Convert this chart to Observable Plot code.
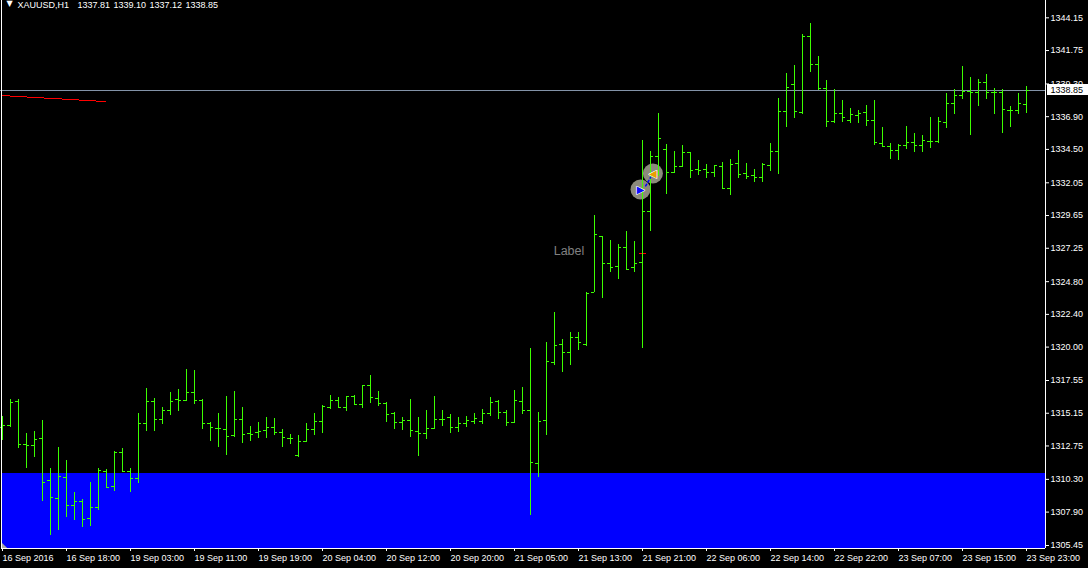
<!DOCTYPE html>
<html>
<head>
<meta charset="utf-8">
<script src="https://cdn.jsdelivr.net/npm/d3@7"></script>
<script src="https://cdn.jsdelivr.net/npm/@observablehq/plot@0.6"></script>
<style>
html,body{margin:0;padding:0;background:#000;overflow:hidden}
svg{display:block}
</style>
</head>
<body>
<div id="chart"></div>
<script>
const highs = [
1314.91,1316.16,1316.16,1313.67,1313.81,1314.62,1311.10,1312.64,1311.69,1309.34,
1308.83,1310.07,1311.10,1311.03,1312.35,1312.57,1311.10,1315.13,1316.97,1316.23,
1315.57,1316.67,1316.89,1318.36,1318.29,1316.16,1314.47,1315.13,1316.38,1316.75,
1315.57,1314.18,1314.47,1314.84,1314.77,1313.96,1313.59,1313.52,1314.40,1315.13,
1315.72,1316.45,1316.31,1316.38,1316.45,1317.19,1317.92,1316.75,1315.94,1315.20,
1314.84,1316.16,1314.84,1315.35,1316.38,1315.35,1315.06,1314.84,1314.91,1315.13,
1315.43,1316.31,1316.09,1315.35,1316.82,1317.04,1319.90,1315.20,
1320.34,1322.54,1320.56,1321.07,1321.07,1324.01,1329.65,1328.11,1327.82,1327.53,
1328.48,1327.75,1335.15,1334.35,1337.13,1334.86,1334.35,1334.79,1334.27,1333.69,
1333.39,1333.32,1333.54,1333.76,1334.42,1333.47,1333.03,1333.47,1334.93,1338.23,
1340.07,1340.65,1342.93,1343.73,1341.31,1339.55,1338.89,1338.09,1337.50,1337.35,
1337.72,1338.09,1336.11,1334.93,1334.86,1336.18,1335.67,1335.52,1336.84,1336.84,
1338.60,1338.89,1340.58,1339.77,1339.63,1339.99,1338.97,1338.89,1337.65,1338.60,
1339.10];
const lows = [
1313.15,1314.11,1312.57,1311.10,1311.91,1308.68,1306.19,1306.55,1307.51,1307.29,
1306.77,1306.85,1308.02,1309.63,1309.41,1310.81,1309.34,1310.00,1313.81,1313.81,
1314.33,1314.99,1315.28,1316.01,1315.79,1313.96,1313.08,1312.64,1312.05,1313.37,
1312.93,1313.08,1313.30,1313.30,1313.52,1312.64,1312.86,1311.91,1313.01,1313.52,
1313.67,1315.43,1315.50,1315.28,1315.72,1315.50,1315.87,1315.65,1314.47,1313.96,
1313.89,1313.37,1311.98,1313.23,1313.96,1314.18,1313.67,1313.74,1314.11,1314.33,
1314.33,1314.91,1314.69,1314.18,1314.40,1315.06,1307.65,1310.44,
1313.52,1318.65,1318.14,1318.65,1319.75,1320.05,1324.01,1323.57,1325.47,1324.96,
1325.62,1325.47,1319.90,1328.48,1332.51,1331.19,1332.73,1333.17,1332.37,1332.59,
1332.37,1332.44,1331.56,1331.12,1332.37,1332.29,1332.07,1332.07,1332.88,1332.66,
1336.11,1336.77,1337.06,1340.14,1338.82,1336.11,1336.40,1336.47,1336.40,1336.40,
1336.18,1334.79,1334.64,1333.76,1333.69,1334.49,1334.27,1334.27,1334.57,1334.93,
1336.03,1337.06,1338.16,1335.52,1337.65,1338.16,1337.06,1335.67,1336.11,1337.06,
1337.12];
const opens = [
1314.11,1314.26,1316.01,1312.86,1312.79,1313.30,1310.22,1308.90,1310.44,1308.39,
1308.68,1307.43,1308.24,1310.88,1309.78,1312.27,1310.88,1310.37,1314.40,1316.01,
1314.69,1315.35,1316.16,1316.09,1316.67,1316.09,1314.40,1314.03,1313.96,1313.52,
1314.69,1313.67,1313.74,1313.89,1314.11,1313.74,1313.30,1312.05,1313.08,1313.96,
1314.55,1315.57,1316.09,1315.57,1316.38,1315.79,1317.19,1316.23,1315.87,1315.13,
1314.47,1314.62,1313.81,1313.67,1314.03,1314.69,1314.84,1314.11,1314.40,1314.55,
1314.55,1315.13,1316.01,1315.20,1314.47,1316.01,1315.35,1311.47,
1314.62,1318.87,1320.19,1319.60,1320.71,1320.19,1324.01,1328.11,1326.13,1325.91,
1327.31,1325.84,1326.20,1329.95,1333.98,1334.49,1332.80,1333.25,1334.27,1333.03,
1333.03,1332.80,1333.25,1331.63,1333.47,1332.73,1332.59,1332.44,1333.32,1334.35,
1337.28,1339.26,1337.21,1342.78,1340.73,1338.97,1336.55,1337.13,1336.62,1336.99,
1337.21,1336.62,1334.93,1334.71,1334.42,1334.79,1335.01,1334.79,1335.08,1335.08,
1336.47,1337.87,1338.45,1338.75,1338.67,1339.41,1338.67,1338.67,1337.35,1337.35,
1337.81];
const closes = [
1314.26,1315.94,1312.86,1312.79,1313.23,1310.07,1308.97,1310.51,1308.39,1308.68,
1307.36,1308.24,1310.95,1309.71,1312.27,1310.88,1310.37,1314.40,1316.01,1314.69,
1315.35,1316.01,1316.09,1316.67,1316.09,1314.40,1314.11,1314.03,1313.45,1314.69,
1313.59,1313.59,1313.81,1314.11,1313.74,1313.37,1313.30,1313.08,1313.96,1314.55,
1315.65,1316.09,1315.57,1316.38,1315.79,1317.19,1316.31,1315.87,1315.06,1314.47,
1314.62,1313.89,1313.67,1314.03,1314.69,1314.69,1314.11,1314.40,1314.62,1314.77,
1315.13,1315.94,1315.20,1314.47,1316.09,1315.35,1311.54,1314.55,
1318.95,1320.12,1319.60,1320.71,1320.34,1323.93,1328.26,1326.13,1325.84,1327.31,
1325.69,1326.13,1329.95,1333.98,1335.30,1332.80,1333.25,1334.27,1332.95,1332.95,
1332.80,1333.32,1331.63,1333.39,1332.66,1332.51,1332.44,1333.39,1334.35,1337.28,
1339.04,1337.28,1342.78,1340.73,1338.97,1336.55,1337.13,1336.84,1337.06,1337.13,
1336.62,1335.01,1334.71,1334.42,1334.79,1335.01,1334.79,1335.15,1335.08,1336.55,
1337.87,1338.45,1338.75,1338.67,1339.41,1338.67,1338.67,1337.43,1337.35,1337.87,
1338.85];
const priceTicks = [1344.15,1341.75,1339.30,1336.90,1334.50,1332.05,1329.65,1327.25,1324.80,1322.40,1320.00,1317.55,1315.15,1312.75,1310.30,1307.90,1305.45];
const timeLabels = ["16 Sep 2016","16 Sep 18:00","19 Sep 03:00","19 Sep 11:00","19 Sep 19:00","20 Sep 04:00","20 Sep 12:00","20 Sep 20:00","21 Sep 05:00","21 Sep 13:00","21 Sep 21:00","22 Sep 06:00","22 Sep 14:00","22 Sep 22:00","23 Sep 07:00","23 Sep 15:00","23 Sep 23:00"];
const lastPrice = 1338.85;
const zoneTop = 1310.73, bottomPrice = 1305.23;
const trendline = [{i:-0.1,p:1338.45},{i:12.9,p:1338.01}];
const signalDash = [{i1:79.6,i2:80.5,p:1326.87}];
const signals = [{i:79.75,p:1331.56,glyph:"\u25B6",fill:"#0a0aff"},{i:81.3,p:1332.73,glyph:"\u25C0",fill:"#e8a000"}];
const signalLink = [{i:80.4,p:1331.82},{i:81.0,p:1332.44}];
const headerParts = ["XAUUSD,H1","1337.81","1339.10","1337.12","1338.85"];

const bars = highs.map((h,i)=>({i,high:h,low:lows[i],open:opens[i],close:closes[i]}));
const tickIndex = timeLabels.map((_,k)=>k*8);
const font = "'Liberation Sans', Arial, sans-serif";
const green = "#3cff00";
const crisp = {shapeRendering:"crispEdges"};
const lastX1 = 130.6, lastX2 = 135.7, boxHalf = 0.4;
const headerOffsets = [17,77,113,149,185];
const size = 9;

const plot = Plot.plot({
  width:1088, height:568,
  marginLeft:1, marginRight:43, marginTop:0, marginBottom:20,
  style:{background:"#000",color:"#fff",fontFamily:font,fontSize:size+"px"},
  x:{type:"linear",domain:[0,128],range:[2,1026],label:null},
  y:{type:"linear",domain:[bottomPrice,1345.42],range:[548,0],label:null},
  marks:[
    Plot.rect([{}],{x1:()=>-0.06,x2:()=>130.375,y1:()=>bottomPrice,y2:()=>zoneTop,fill:"#0000ff",...crisp}),
    Plot.areaY([{i:0,p:1305.6},{i:0.65,p:bottomPrice}],{x:"i",y1:()=>bottomPrice,y2:"p",fill:"#a8a8a8"}),
    Plot.dot(signals,{x:"i",y:"p",r:10,fill:"#8c8a7c",stroke:"none"}),
    Plot.ruleY([{p:lastPrice}],{y:"p",x1:()=>-0.25,x2:()=>130.375,stroke:"#8393a8",...crisp}),
    Plot.line(trendline,{x:"i",y:"p",stroke:"#ff0000",strokeWidth:1,...crisp}),
    Plot.ruleY(signalDash,{y:"p",x1:"i1",x2:"i2",stroke:"#ff0000",...crisp}),
    Plot.ruleX(bars,{x:"i",y1:"low",y2:"high",stroke:green,...crisp}),
    Plot.ruleY(bars,{y:"open",x1:d=>d.i-0.375,x2:"i",stroke:green,...crisp}),
    Plot.ruleY(bars,{y:"close",x1:"i",x2:d=>d.i+0.375,stroke:green,...crisp}),
    Plot.line(signalLink,{x:"i",y:"p",stroke:"#0000ff",strokeWidth:1.5,strokeDasharray:"2,2.5"}),
    Plot.text(signals,{x:"i",y:"p",text:"glyph",fill:"fill",stroke:"#fff",strokeWidth:1.2,paintOrder:"stroke",fontSize:10,fontFamily:"'DejaVu Sans'"}),
    Plot.ruleX([-0.125,130.375],{y1:()=>bottomPrice,y2:()=>1345.42,stroke:"#fff",...crisp}),
    Plot.ruleY([bottomPrice],{x1:()=>-0.125,x2:()=>130.375,stroke:"#fff",...crisp}),
    Plot.axisY(priceTicks,{anchor:"right",label:null,tickSize:3,tickPadding:2,tickFormat:d=>d.toFixed(2),color:"#fff",fontSize:size,fontFamily:font}),
    Plot.axisX(tickIndex,{anchor:"bottom",label:null,tickSize:3,tickPadding:3,tickFormat:i=>timeLabels[i/8],textAnchor:"start",color:"#fff",fontSize:size,fontFamily:font}),
    Plot.rect([{}],{x1:()=>lastX1,x2:()=>lastX2,y1:()=>lastPrice-boxHalf,y2:()=>lastPrice+boxHalf,fill:"#fff",...crisp}),
    Plot.text([lastPrice],{x:()=>lastX1+0.4,y:d=>d,text:d=>d.toFixed(2),textAnchor:"start",fill:"#000",fontSize:size,fontFamily:font}),
    Plot.text(["Label"],{x:()=>68.9,y:()=>1327.02,text:d=>d,textAnchor:"start",fill:"#808080",fontSize:12.5,fontFamily:font}),
    Plot.text(["\u25BC"],{frameAnchor:"top-left",dx:5,dy:0,text:d=>d,textAnchor:"start",lineAnchor:"top",fill:"#fff",fontSize:8,fontFamily:"'DejaVu Sans'"}),
    ...headerParts.map((t,k)=>Plot.text([t],{frameAnchor:"top-left",dx:headerOffsets[k]-1,dy:1,text:d=>d,textAnchor:"start",lineAnchor:"top",fill:"#fff",fontSize:size,fontFamily:font}))
  ]
});
document.getElementById("chart").appendChild(plot);
</script>
</body>
</html>
